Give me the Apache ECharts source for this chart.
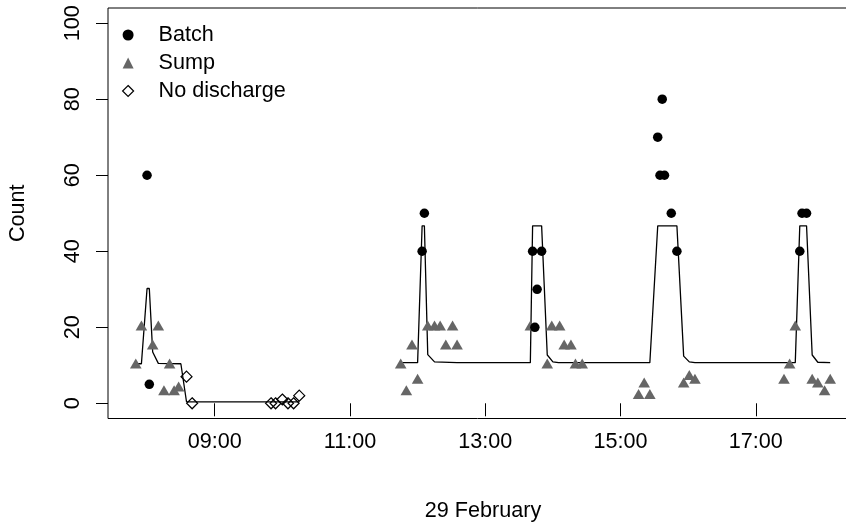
<!DOCTYPE html>
<html>
<head>
<meta charset="utf-8">
<script src="https://cdn.jsdelivr.net/npm/echarts@6/dist/echarts.min.js"></script>
<style>
  html, body { margin: 0; padding: 0; background: #ffffff; }
  #chart { width: 846px; height: 522px; }
</style>
</head>
<body>
<div id="chart"></div>
<script>
// Observations on 29 February: clock time and count
const batchTimes  = ['08:00', '08:02', '12:04', '12:06', '13:42', '13:44', '13:46', '13:50',
                     '15:33', '15:35', '15:37', '15:39', '15:45', '15:50', '17:39', '17:41', '17:45'];
const batchCounts = [60, 5, 40, 50, 40, 20, 30, 40, 70, 60, 80, 60, 50, 40, 40, 50, 50];

const sumpTimes  = ['07:50', '07:55', '08:05', '08:10', '08:15', '08:20', '08:24', '08:28',
                    '11:45', '11:50', '11:55', '12:00', '12:09', '12:15', '12:20', '12:25', '12:31', '12:35',
                    '13:40', '13:55', '13:59', '14:06', '14:10', '14:16', '14:20', '14:26',
                    '15:16', '15:21', '15:26', '15:56', '16:01', '16:06',
                    '17:25', '17:30', '17:35', '17:50', '17:55', '18:01', '18:06'];
const sumpCounts = [10, 20, 15, 20, 3, 10, 3, 4,
                    10, 3, 15, 6, 20, 20, 20, 15, 20, 15,
                    20, 10, 20, 20, 15, 15, 10, 10,
                    2, 5, 2, 5, 7, 6,
                    6, 10, 20, 6, 5, 3, 6];

const noDischargeTimes  = ['08:35', '08:40', '09:50', '09:54', '10:00', '10:05', '10:10', '10:15'];
const noDischargeCounts = [7, 0, 0, 0, 1, 0, 0, 2];

// Fitted mean count, two monitoring periods
const fitEarlyTimes  = ['07:50', '07:55', '08:00', '08:02', '08:05', '08:10', '08:30', '08:35', '10:15'];
const fitEarlyCounts = [10.4, 10.4, 30.2, 30.2, 13.5, 10.5, 10.4, 0.4, 0.4];
const fitLateTimes  = ['11:45', '12:00', '12:04', '12:06', '12:09', '12:15', '12:35',
                       '13:40', '13:42', '13:50', '13:55', '14:00', '14:05',
                       '15:26', '15:33', '15:50', '15:56', '16:01', '16:06',
                       '17:35', '17:39', '17:45', '17:50', '17:55', '18:06'];
const fitLateCounts = [10.7, 10.7, 46.7, 46.7, 12.8, 10.9, 10.7,
                       10.7, 46.7, 46.7, 12.7, 10.9, 10.7,
                       10.7, 46.7, 46.7, 12.4, 10.9, 10.7,
                       10.7, 46.7, 46.7, 12.7, 10.8, 10.7];

const xTickLabels = ['09:00', '11:00', '13:00', '15:00', '17:00'];
const yTicks = [0, 20, 40, 60, 80, 100];

function toMin(s) {
  const [h, m] = s.split(':').map(Number);
  return h * 60 + m;
}
function fmtClock(v) {
  const h = Math.floor(v / 60), m = Math.round(v - h * 60);
  return String(h).padStart(2, '0') + ':' + String(m).padStart(2, '0');
}
function pairs(times, counts) {
  return times.map((t, i) => [toMin(t), counts[i]]);
}

const allTimes = batchTimes.concat(sumpTimes, noDischargeTimes).map(toMin);
const tMin = Math.min(...allTimes), tMax = Math.max(...allTimes);
const pad = 0.04 * (tMax - tMin);

const fitData = pairs(fitEarlyTimes, fitEarlyCounts)
  .concat([[null, null]])
  .concat(pairs(fitLateTimes, fitLateCounts));

const FONT = '"Liberation Sans", Arial, Helvetica, sans-serif';
const FS = 21.6;
const SUMP_GREY = '#666666';

const chart = echarts.init(document.getElementById('chart'), null, { renderer: 'canvas' });
chart.setOption({
  animation: false,
  backgroundColor: '#ffffff',
  textStyle: { fontFamily: FONT, color: '#000' },
  grid: {
    left: 108, top: 8, width: 750, height: 410.5,
    outerBoundsMode: 'none', containLabel: false,
    show: true, borderColor: '#000', borderWidth: 1, backgroundColor: 'transparent'
  },
  legend: {
    orient: 'vertical', left: 122, top: 24, padding: 0,
    itemWidth: 11, itemHeight: 11, itemGap: 6,
    selectedMode: false,
    textStyle: { fontFamily: FONT, fontSize: FS, lineHeight: 20, color: '#000', padding: [0, 0, 0, 20] },
    data: [
      { name: 'Batch', icon: 'circle', itemStyle: { color: '#000' } },
      { name: 'Sump', icon: 'triangle', itemStyle: { color: SUMP_GREY } },
      { name: 'No discharge', icon: 'diamond',
        itemStyle: { color: 'transparent', borderColor: '#000', borderWidth: 1.2 } }
    ]
  },
  xAxis: {
    type: 'value',
    min: tMin - pad, max: tMax + pad,
    name: '29 February', nameLocation: 'middle', nameGap: 82,
    nameTextStyle: { fontFamily: FONT, fontSize: FS, color: '#000' },
    axisLine: { show: false },
    splitLine: { show: false },
    axisTick: { show: true, customValues: xTickLabels.map(toMin), length: 13,
                lineStyle: { color: '#000', width: 1 } },
    axisLabel: { customValues: xTickLabels.map(toMin), formatter: fmtClock,
                 margin: 13, fontFamily: FONT, fontSize: FS, color: '#000' }
  },
  yAxis: {
    type: 'value',
    min: -4, max: 104,
    name: 'Count', nameLocation: 'middle', nameGap: 79,
    nameTextStyle: { fontFamily: FONT, fontSize: FS, color: '#000' },
    axisLine: { show: false },
    splitLine: { show: false },
    axisTick: { show: true, customValues: yTicks, length: 12,
                lineStyle: { color: '#000', width: 1 } },
    axisLabel: { customValues: yTicks, rotate: 90, margin: 24,
                 fontFamily: FONT, fontSize: FS, color: '#000' }
  },
  series: [
    {
      name: 'Fitted', type: 'line', data: fitData, connectNulls: false,
      showSymbol: false, symbol: 'none', z: 1,
      lineStyle: { color: '#000', width: 1.3 }
    },
    {
      name: 'Sump', type: 'scatter', data: pairs(sumpTimes, sumpCounts), z: 2,
      symbol: 'triangle', symbolSize: [11.6, 10], symbolOffset: [0, -1.7],
      itemStyle: { color: SUMP_GREY, opacity: 1 }
    },
    {
      name: 'No discharge', type: 'scatter', data: pairs(noDischargeTimes, noDischargeCounts), z: 3,
      symbol: 'diamond', symbolSize: 11,
      itemStyle: { color: 'transparent', borderColor: '#000', borderWidth: 1.2, opacity: 1 }
    },
    {
      name: 'Batch', type: 'scatter', data: pairs(batchTimes, batchCounts), z: 4,
      symbol: 'circle', symbolSize: 9.5,
      itemStyle: { color: '#000', opacity: 1 }
    }
  ]
});
</script>
</body>
</html>
